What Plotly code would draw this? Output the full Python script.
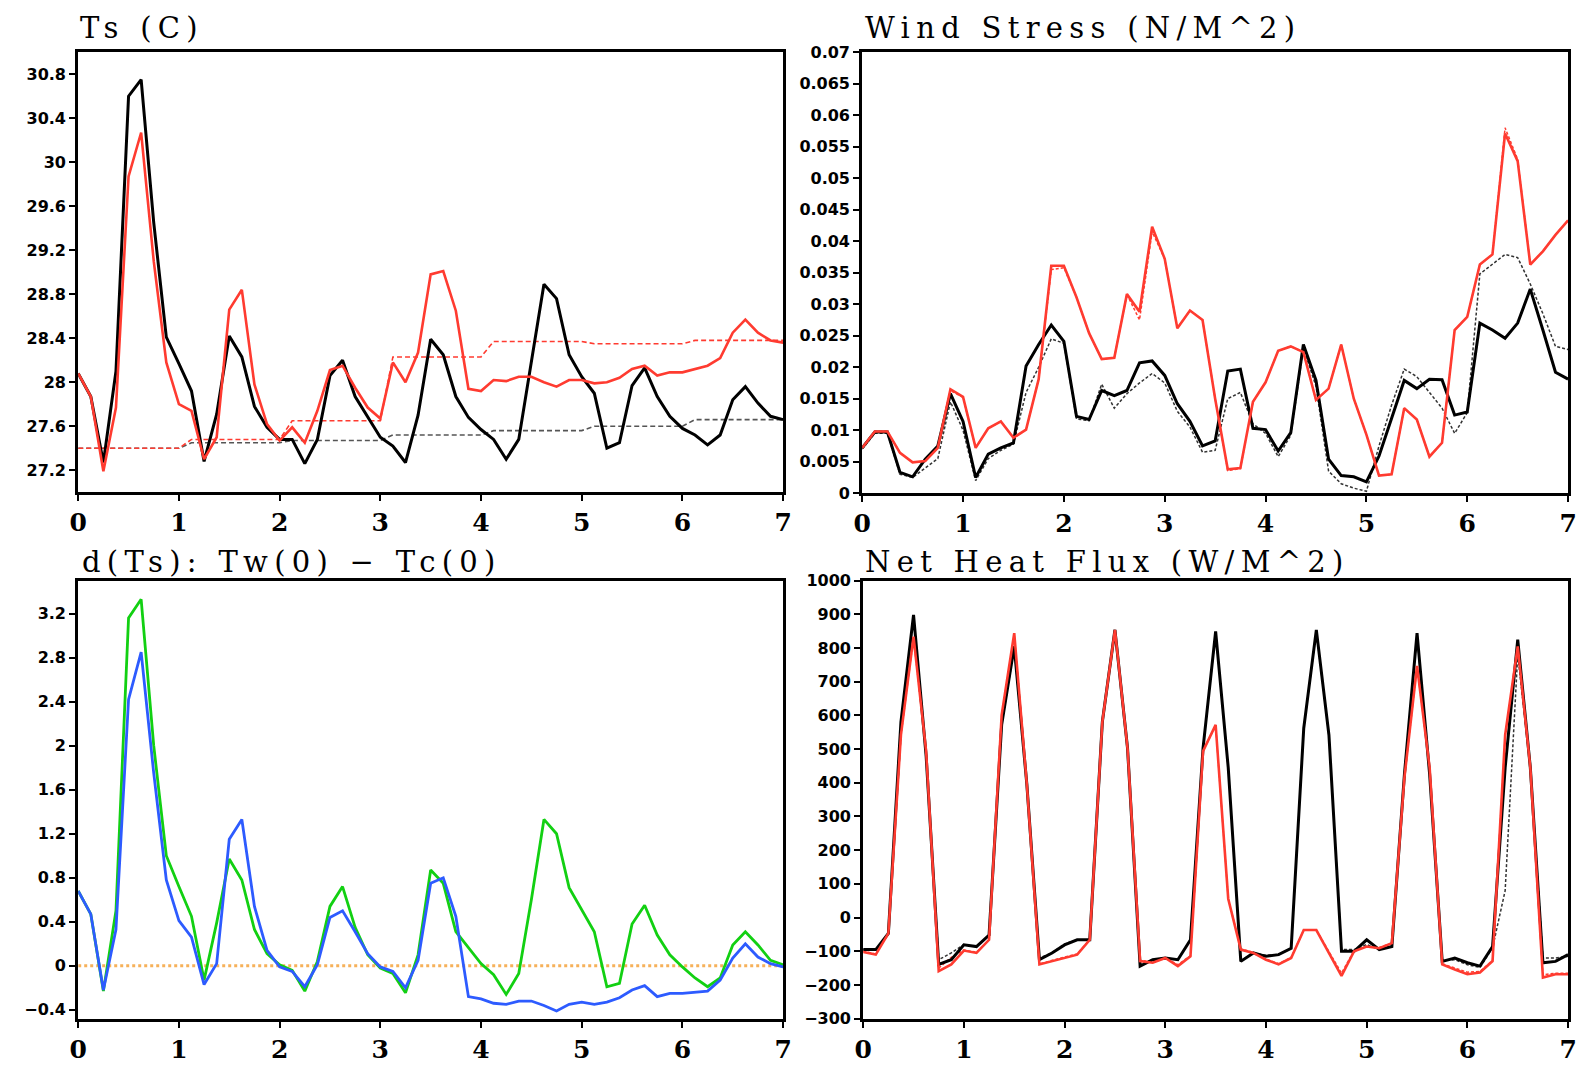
import plotly.graph_objects as go

# ---------------- data (3-hourly, days 0..7) ----------------
days = [0, 0.125, 0.25, 0.375, 0.5, 0.625, 0.75, 0.875, 1.0,
        1.125, 1.25, 1.375, 1.5, 1.625, 1.75, 1.875, 2.0,
        2.125, 2.25, 2.375, 2.5, 2.625, 2.75, 2.875, 3.0,
        3.125, 3.25, 3.375, 3.5, 3.625, 3.75, 3.875, 4.0,
        4.125, 4.25, 4.375, 4.5, 4.625, 4.75, 4.875, 5.0,
        5.125, 5.25, 5.375, 5.5, 5.625, 5.75, 5.875, 6.0,
        6.125, 6.25, 6.375, 6.5, 6.625, 6.75, 6.875, 7.0]

# Ts (C)
ts_black = [28.08, 27.87, 27.27, 28.1, 30.6, 30.75, 29.45, 28.41, 28.17,
            27.92, 27.28, 27.71, 28.42, 28.23, 27.78, 27.59, 27.48,
            27.48, 27.26, 27.48, 28.06, 28.2, 27.87, 27.68, 27.5,
            27.42, 27.27, 27.7, 28.39, 28.25, 27.87, 27.68, 27.57,
            27.48, 27.3, 27.48, 28.2, 28.89, 28.76, 28.25, 28.05,
            27.9, 27.4, 27.45, 27.97, 28.13, 27.87, 27.69, 27.58,
            27.52, 27.43, 27.52, 27.84, 27.96, 27.81, 27.69, 27.66]
ts_red = [28.08, 27.87, 27.19, 27.77, 29.87, 30.27, 29.1, 28.18, 27.8,
          27.74, 27.3, 27.5, 28.66, 28.84, 27.98, 27.62, 27.47,
          27.59, 27.45, 27.74, 28.11, 28.15, 27.95, 27.77, 27.67,
          28.18, 28.0, 28.27, 28.98, 29.01, 28.65, 27.94, 27.92,
          28.02, 28.01, 28.05, 28.05, 28.0, 27.96, 28.02, 28.02,
          27.99, 28.0, 28.04, 28.12, 28.15, 28.06, 28.09, 28.09,
          28.12, 28.15, 28.22, 28.45, 28.57, 28.45, 28.38, 28.36]
ts_black_dash = [27.4, 27.4, 27.4, 27.4, 27.4, 27.4, 27.4, 27.4, 27.4,
                 27.45, 27.45, 27.45, 27.45, 27.45, 27.45, 27.45, 27.45,
                 27.47, 27.47, 27.47, 27.47, 27.47, 27.47, 27.47, 27.47,
                 27.52, 27.52, 27.52, 27.52, 27.52, 27.52, 27.52, 27.52,
                 27.56, 27.56, 27.56, 27.56, 27.56, 27.56, 27.56, 27.56,
                 27.6, 27.6, 27.6, 27.6, 27.6, 27.6, 27.6, 27.6,
                 27.66, 27.66, 27.66, 27.66, 27.66, 27.66, 27.66, 27.66]
ts_red_dash = [27.4, 27.4, 27.4, 27.4, 27.4, 27.4, 27.4, 27.4, 27.4,
               27.48, 27.48, 27.48, 27.48, 27.48, 27.48, 27.48, 27.48,
               27.65, 27.65, 27.65, 27.65, 27.65, 27.65, 27.65, 27.65,
               28.23, 28.23, 28.23, 28.23, 28.23, 28.23, 28.23, 28.23,
               28.37, 28.37, 28.37, 28.37, 28.37, 28.37, 28.37, 28.37,
               28.35, 28.35, 28.35, 28.35, 28.35, 28.35, 28.35, 28.35,
               28.38, 28.38, 28.38, 28.38, 28.38, 28.38, 28.38, 28.38]

# Wind stress (N/M^2)
ws_black = [0.0072, 0.0097, 0.0097, 0.0033, 0.0026, 0.0054, 0.0075, 0.0158, 0.0114,
            0.0025, 0.0062, 0.0072, 0.008, 0.0202, 0.0236, 0.0267, 0.0241,
            0.0122, 0.0117, 0.0163, 0.0155, 0.0163, 0.0207, 0.021, 0.0187,
            0.0142, 0.0114, 0.0075, 0.0083, 0.0194, 0.0197, 0.0103, 0.0101,
            0.0067, 0.0096, 0.0236, 0.0179, 0.0054, 0.0028, 0.0026, 0.0018,
            0.0059, 0.0119, 0.0179, 0.0166, 0.0181, 0.018, 0.0124, 0.0129,
            0.027, 0.0259, 0.0246, 0.027, 0.0324, 0.0259, 0.0192, 0.0181]
ws_black_dash = [0.007, 0.0095, 0.0095, 0.003, 0.0025, 0.004, 0.0055, 0.0145, 0.010,
                 0.002, 0.0055, 0.0068, 0.0078, 0.016, 0.020, 0.0245, 0.0238,
                 0.0118, 0.0115, 0.0173, 0.0135, 0.0158, 0.0175, 0.019, 0.0175,
                 0.013, 0.0105, 0.0065, 0.0068, 0.015, 0.016, 0.011, 0.0095,
                 0.0058, 0.0092, 0.023, 0.017, 0.0035, 0.0015, 0.0008, 0.0003,
                 0.0075, 0.014, 0.0197, 0.0185, 0.016, 0.0135, 0.0095, 0.0128,
                 0.0348, 0.0363, 0.0379, 0.0374, 0.0332, 0.0285, 0.0233, 0.0228]
ws_red = [0.0072, 0.0098, 0.0098, 0.0064, 0.0049, 0.0051, 0.0072, 0.0165, 0.0153,
          0.0072, 0.0103, 0.0114, 0.0088, 0.0101, 0.0181, 0.0361, 0.0361,
          0.0311, 0.0254, 0.0213, 0.0215, 0.0316, 0.0288, 0.0423, 0.0372,
          0.0262, 0.029, 0.0275, 0.015, 0.0038, 0.004, 0.0145, 0.0176,
          0.0226, 0.0233, 0.0224, 0.0148, 0.0166, 0.0236, 0.015, 0.0093,
          0.0028, 0.003, 0.0135, 0.0117, 0.0058, 0.008, 0.0259, 0.028,
          0.0363, 0.0379, 0.0571, 0.0527, 0.0363, 0.0384, 0.041, 0.0433]
ws_red_dash = [0.0072, 0.0098, 0.0098, 0.0064, 0.0049, 0.0051, 0.0072, 0.0163, 0.0152,
               0.0072, 0.0103, 0.0114, 0.0088, 0.0101, 0.0181, 0.0355, 0.0358,
               0.0311, 0.0254, 0.0213, 0.0215, 0.0316, 0.0275, 0.0415, 0.0372,
               0.0262, 0.029, 0.0275, 0.015, 0.0036, 0.0039, 0.0145, 0.0176,
               0.0226, 0.0233, 0.0224, 0.0148, 0.0166, 0.0236, 0.015, 0.0093,
               0.0028, 0.003, 0.0135, 0.0117, 0.0058, 0.008, 0.0259, 0.028,
               0.0363, 0.0379, 0.058, 0.053, 0.0363, 0.0384, 0.041, 0.0433]

# d(Ts): Tw(0) - Tc(0)
dts_green = [0.68, 0.47, -0.23, 0.5, 3.16, 3.33, 2.0, 1.0, 0.72,
             0.45, -0.13, 0.39, 0.97, 0.78, 0.33, 0.11, 0.01,
             -0.04, -0.23, 0.04, 0.54, 0.72, 0.35, 0.1, -0.02,
             -0.07, -0.245, 0.1, 0.87, 0.75, 0.31, 0.16, 0.02,
             -0.08, -0.26, -0.07, 0.6, 1.33, 1.2, 0.71, 0.51,
             0.31, -0.19, -0.16, 0.38, 0.55, 0.28, 0.1, -0.01,
             -0.11, -0.19, -0.11, 0.19, 0.31, 0.19, 0.05, 0.01]
dts_blue = [0.68, 0.47, -0.22, 0.33, 2.42, 2.85, 1.75, 0.78, 0.41,
            0.26, -0.17, 0.02, 1.15, 1.33, 0.54, 0.14, -0.01,
            -0.05, -0.19, 0.01, 0.44, 0.5, 0.31, 0.11, -0.01,
            -0.05, -0.2, 0.05, 0.75, 0.8, 0.45, -0.28, -0.3,
            -0.34, -0.35, -0.32, -0.32, -0.36, -0.41, -0.35, -0.33,
            -0.35, -0.33, -0.29, -0.22, -0.18, -0.28, -0.25, -0.25,
            -0.24, -0.23, -0.13, 0.07, 0.2, 0.08, 0.02, -0.01]
dts_zero = [0, 0]
dts_zero_x = [0, 7]

# Net heat flux (W/M^2)
hf_black = [-95, -95, -47, 581, 898, 480, -139, -125, -81,
            -86, -52, 572, 805, 396, -125, -105, -81,
            -66, -66, 581, 854, 503, -144, -125, -120,
            -125, -66, 503, 849, 445, -130, -105, -115,
            -110, -91, 562, 854, 542, -100, -100, -66,
            -95, -86, 426, 844, 426, -130, -120, -134,
            -144, -86, 445, 825, 445, -134, -130, -110]
hf_black_dash = [-95, -95, -47, 575, 890, 480, -125, -105, -80,
                 -86, -52, 572, 800, 396, -120, -105, -78,
                 -66, -66, 581, 850, 503, -140, -125, -120,
                 -125, -66, 503, 845, 445, -128, -105, -112,
                 -110, -91, 562, 850, 540, -95, -95, -80,
                 -95, -86, 426, 840, 426, -128, -125, -140,
                 -148, -90, 80, 780, 445, -120, -120, -115]
hf_red = [-102, -110, -47, 542, 834, 494, -159, -139, -98,
          -105, -66, 601, 844, 396, -139, -129, -120,
          -110, -66, 581, 854, 503, -129, -134, -120,
          -144, -115, 494, 572, 56, -95, -105, -125,
          -139, -120, -37, -37, -105, -173, -100, -86,
          -91, -76, 416, 747, 445, -139, -154, -168,
          -163, -129, 542, 805, 445, -178, -168, -168]
hf_red_dash = [-100, -108, -47, 540, 830, 494, -150, -118, -96,
               -103, -66, 598, 840, 396, -137, -127, -118,
               -108, -66, 578, 850, 503, -127, -132, -120,
               -140, -113, 494, 570, 56, -93, -103, -123,
               -137, -118, -37, -37, -103, -165, -98, -86,
               -89, -76, 414, 745, 445, -137, -150, -162,
               -160, -127, 540, 800, 445, -170, -165, -165]

# ---------------- figure ----------------
W, H = 1585, 1065
RED = "#ff3b30"
GREEN = "#12d012"
BLUE = "#2d5bff"
ORANGE = "#f6b15a"

fig = go.Figure()

def add(x, y, ax, color, width, dash="solid"):
    fig.add_trace(go.Scatter(x=x, y=y, mode="lines", xaxis="x" + ax, yaxis="y" + ax,
                             line=dict(color=color, width=width, dash=dash),
                             showlegend=False, hoverinfo="skip"))

# panel 1: Ts
add(days, ts_black_dash, "", "#555555", 1.6, "5px,3px")
add(days, ts_red_dash, "", RED, 1.6, "5px,3px")
add(days, ts_black, "", "black", 3)
add(days, ts_red, "", RED, 2.6)
# panel 2: wind stress
add(days, ws_black_dash, "2", "#333333", 1.5, "3px,2px")
add(days, ws_red_dash, "2", RED, 1.5, "3px,2px")
add(days, ws_black, "2", "black", 3)
add(days, ws_red, "2", RED, 2.6)
# panel 3: d(Ts)
add(dts_zero_x, dts_zero, "3", ORANGE, 3, "dot")
add(days, dts_green, "3", GREEN, 2.8)
add(days, dts_blue, "3", BLUE, 2.8)
# panel 4: heat flux
add(days, hf_black_dash, "4", "#333333", 1.5, "3px,2px")
add(days, hf_red_dash, "4", RED, 1.5, "3px,2px")
add(days, hf_black, "4", "black", 3)
add(days, hf_red, "4", RED, 2.6)

# panel boxes in pixels (left, right, top, bottom)
boxes = {
    "": (70, 783, 44, 492),
    "2": (863, 1577, 44, 493),
    "3": (70, 783, 582, 1028),
    "4": (864, 1577, 582, 1028),
}
yranges = {"": ([27, 31], 27.2, 0.4), "2": ([0, 0.07], 0, 0.005),
           "3": ([-0.48, 3.5], 0, 0.4), "4": ([-300, 1000], -300, 100)}

xtickfont = dict(family="DejaVu Serif", size=25, color="black", weight="bold")
ytickfont = dict(family="DejaVu Sans", size=16, color="black", weight="bold")

layout = dict(width=W, height=H, margin=dict(l=0, r=0, t=0, b=0),
              paper_bgcolor="white", plot_bgcolor="white", showlegend=False)
for k, (l, r, t, b) in boxes.items():
    yr, t0, dt = yranges[k]
    layout["xaxis" + k] = dict(domain=[l / W, r / W], anchor="y" + k, range=[0, 7],
                               tickvals=[0, 1, 2, 3, 4, 5, 6, 7], ticks="outside",
                               ticklen=6, tickwidth=2, tickcolor="black",
                               showline=True, linewidth=3, linecolor="black", mirror=True,
                               showgrid=False, zeroline=False, tickfont=xtickfont)
    layout["yaxis" + k] = dict(domain=[1 - b / H, 1 - t / H], anchor="x" + k, range=yr,
                               tick0=t0, dtick=dt, ticks="outside",
                               ticklen=6, tickwidth=2, tickcolor="black",
                               showline=True, linewidth=3, linecolor="black", mirror=True,
                               showgrid=False, zeroline=False, tickfont=ytickfont)
fig.update_layout(**layout)

titles = [("Ts (C)", 70, 44, 5), ("Wind Stress (N/M^2)", 864, 44, 5),
          ("d(Ts): Tw(0) \u2212 Tc(0)", 72, 582, 0),
          ("Net Heat Flux (W/M^2)", 864, 582, 0)]
for txt, px, py, ys in titles:
    fig.add_annotation(text='<span style="letter-spacing:6.3px">' + txt + '</span>',
                       xref="paper", yref="paper", x=px / W, y=1 - py / H,
                       xanchor="left", yanchor="bottom", showarrow=False,
                       font=dict(family="DejaVu Serif", size=29, color="black"),
                       yshift=ys)

fig.write_html("out.html")
